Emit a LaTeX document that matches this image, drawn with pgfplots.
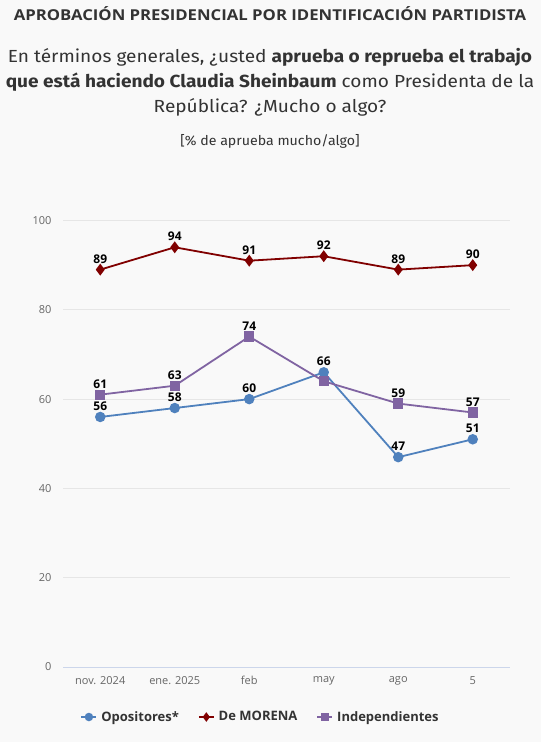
\documentclass[border=0pt]{standalone}
\usepackage{pgfplots}
\pgfplotsset{compat=1.18}
\usepackage{fontspec}
\setmainfont{Fira Sans}
\newfontfamily\opensans{Open Sans}
\definecolor{bg}{HTML}{F9F9F9}
\definecolor{txt}{HTML}{333333}
\definecolor{ticktxt}{HTML}{666666}
\definecolor{gridc}{HTML}{E6E6E6}
\definecolor{zeroc}{HTML}{CCD6EB}
\definecolor{cblue}{HTML}{4F81BD}
\definecolor{cred}{HTML}{800000}
\definecolor{cpurple}{HTML}{8064A2}
\begin{document}
\begin{tikzpicture}[x=1pt,y=1pt]
\fill[bg] (0,0) rectangle (541,-742);
\useasboundingbox (0,0) rectangle (541,-742);
\node[font=\opensans\bfseries\fontsize{15}{17}\selectfont, text=txt, inner sep=0] at (270,-14) {\scalebox{1.115}[1]{APROBACIÓN PRESIDENCIAL POR IDENTIFICACIÓN PARTIDISTA}};
\node[font=\fontsize{17.5}{20}\selectfont, text=txt, inner sep=0] at (270,-57) {\scalebox{1.09}[1]{En términos generales, ¿usted \textbf{aprueba o reprueba el trabajo}}};
\node[font=\fontsize{17.5}{20}\selectfont, text=txt, inner sep=0] at (270,-82) {\scalebox{1.09}[1]{\textbf{que está haciendo Claudia Sheinbaum} como Presidenta de la}};
\node[font=\fontsize{17.5}{20}\selectfont, text=txt, inner sep=0] at (270,-107) {\scalebox{1.09}[1]{República? ¿Mucho o algo?}};
\node[font=\fontsize{13.5}{15}\selectfont, text=txt, inner sep=0] at (270,-141) {\scalebox{1.05}[1]{[\% de aprueba mucho/algo]}};
\begin{axis}[
  at={(63pt,-667pt)}, anchor=south west,
  scale only axis, width=447pt, height=446.5pt,
  xmin=-0.5, xmax=5.5, ymin=0, ymax=100,
  axis line style={draw=none},
  major tick length=0pt,
  ytick={0,20,40,60,80,100},
  xtick={0,1,2,3,4,5},
  xticklabels={nov. 2024, ene. 2025, feb, may, ago, 5},
  ymajorgrids, grid style={gridc, line width=1pt},
  /pgf/number format/assume math mode=true,
  ticklabel style={font=\opensans\fontsize{11}{13}\selectfont, text=ticktxt},
  yticklabel style={xshift=-8pt},
  xticklabel style={yshift=-6pt},
  clip=false,
  every node near coord/.append style={font=\opensans\bfseries\fontsize{12}{14}\selectfont, text=black, yshift=2pt},
  legend style={draw=none, fill=none, at={(0.442,-0.112)}, anchor=center,
    font=\opensans\bfseries\fontsize{13}{15}\selectfont, text=txt,
    /tikz/every even column/.append style={column sep=17pt},
    /tikz/every odd column/.append style={column sep=2pt}},
  legend columns=3,
  legend image code/.code={\draw[#1, mark=none] (0pt,0pt) -- (15pt,0pt);
     \draw[#1, mark size=3.3pt] plot[only marks] coordinates {(7.5pt,0pt)};},
]
\draw[zeroc, line width=1pt] (axis cs:-0.5,0) -- (axis cs:5.5,0);
\addplot[cblue, line width=1.8pt, mark=*, mark size=4.3pt, nodes near coords, point meta=explicit symbolic]
  coordinates {(0,56) [56] (1,58) [58] (2,60) [60] (3,66) [66] (4,47) [47] (5,51) [51]};
\addlegendentry{Opositores*}
\addplot[cred, line width=1.8pt, mark=diamond*, mark size=4.5pt, nodes near coords, point meta=explicit symbolic]
  coordinates {(0,89) [89] (1,94) [94] (2,91) [91] (3,92) [92] (4,89) [89] (5,90) [90]};
\addlegendentry{De MORENA}
\addplot[cpurple, line width=1.8pt, mark=square*, mark size=4.2pt, nodes near coords, point meta=explicit symbolic]
  coordinates {(0,61) [61] (1,63) [63] (2,74) [74] (3,64) [{}] (4,59) [59] (5,57) [57]};
\addlegendentry{Independientes}
\end{axis}
\end{tikzpicture}
\end{document}
